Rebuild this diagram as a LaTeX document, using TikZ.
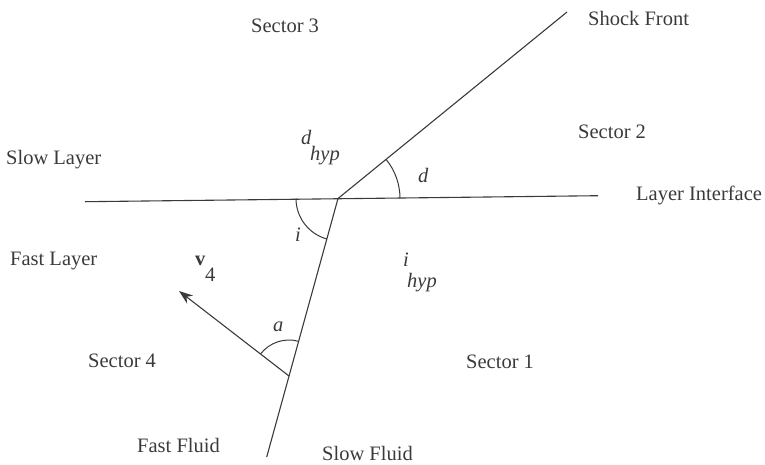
\documentclass[tikz,border=0pt]{standalone}
\usepackage{fontspec}
\setmainfont{Liberation Serif}
\usetikzlibrary{arrows.meta}
\definecolor{ink}{HTML}{3A3A3A}
\begin{document}
\begin{tikzpicture}[x=1pt,y=-1pt,
  lbl/.style={anchor=base west,inner sep=0pt,text=ink,font=\fontsize{20.5}{22}\selectfont},
  ln/.style={draw=ink,line width=1.1pt},
  arc/.style={draw=ink,line width=1pt}]
\useasboundingbox (0,0) rectangle (765,464);
% key points
\coordinate (V) at (338,198.5);
\coordinate (IL) at (85,201.7);
\coordinate (IR) at (598,195.7);
\coordinate (SF) at (567,12);
\coordinate (LB) at (266.7,457);
\coordinate (F) at (289,376);
\coordinate (T) at (179,291);
% lines
\draw[ln] (IL) -- (IR);
\draw[ln] (V) -- (SF);
\draw[ln] (V) -- (LB);
\draw[ln,-{Stealth[length=14pt,width=10pt]}] (F) -- (T);
% angle arcs
\draw[arc] ([shift={(0:62)}]V) arc[start angle=0,end angle=-39.2,radius=62];
\draw[arc] ([shift={(180:42)}]V) arc[start angle=-180,end angle=-254.6,radius=42];
\draw[arc] ([shift={(-74.6:36)}]F) arc[start angle=-74.6,end angle=-142.3,radius=36];
% texts
\node[lbl] (s3) at (251,32) {Sector 3};
\node[lbl] (sf) at (588,25) {Shock Front};
\node[lbl] (s2) at (578,138) {Sector 2};
\node[lbl] (sl) at (6,164) {Slow Layer};
\node[lbl] (li) at (636,200) {Layer Interface};
\node[lbl] (fl) at (10,265) {Fast Layer};
\node[lbl] (s4) at (88,367) {Sector 4};
\node[lbl] (s1) at (466,368) {Sector 1};
\node[lbl] (ff) at (137,452) {Fast Fluid};
\node[lbl] (sfl) at (322,460) {Slow Fluid};
\node[lbl] (dh1) at (301,144) {\itshape d};
\node[lbl] (dh2) at (310,160) {\itshape hyp};
\node[lbl] (dl) at (418,182) {\itshape d};
\node[lbl] (il) at (295,241) {\itshape i};
\node[lbl] (ih1) at (403,266) {\itshape i};
\node[lbl] (ih2) at (407,287) {\itshape hyp};
\node[lbl] (al) at (273,331) {\itshape a};
\node[lbl] (v1) at (195,265) {\bfseries v};
\node[lbl] (v2) at (205,281) {4};
\end{tikzpicture}
\end{document}
